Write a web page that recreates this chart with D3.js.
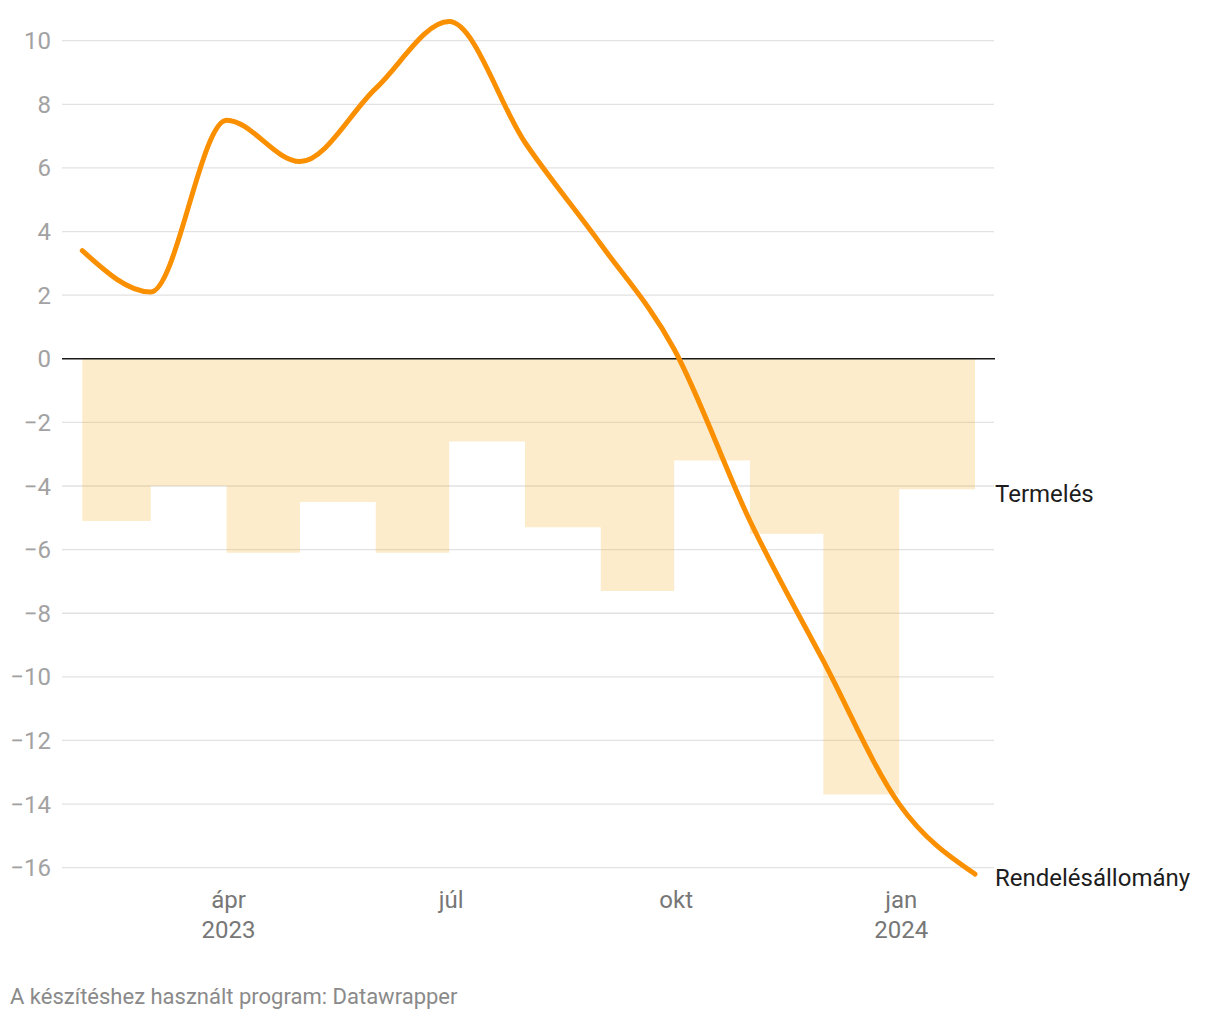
<!DOCTYPE html>
<html>
<head>
<meta charset="utf-8">
<script src="https://cdn.jsdelivr.net/npm/d3@7"></script>
<style>
  html, body { margin: 0; padding: 0; background: #fff; }
  svg { display: block; font-family: Roboto, "Noto Sans", sans-serif; }
</style>
</head>
<body>
<svg id="chart" width="1220" height="1020"></svg>
<script>
// ---- Data ----
const months = ["2023-02-01","2023-03-01","2023-04-01","2023-05-01","2023-06-01","2023-07-01",
                "2023-08-01","2023-09-01","2023-10-01","2023-11-01","2023-12-01","2024-01-01","2024-02-01"];
// Rendelésállomány (line), one value per month start
const ordersValues = [3.4, 2.1, 7.5, 6.2, 8.5, 10.6, 6.8, 3.6, 0.3, -5.1, -9.5, -14.0, -16.2];
// Termelés (step area), one value per month (Feb 2023 – Jan 2024)
const productionValues = [-5.1, -4.0, -6.1, -4.5, -6.1, -2.6, -5.3, -7.3, -3.2, -5.5, -13.7, -4.1];
const yTicks = [10, 8, 6, 4, 2, 0, -2, -4, -6, -8, -10, -12, -14, -16];
const xTickDates = ["2023-04-01","2023-07-01","2023-10-01","2024-01-01"];
const xTickLabels = [["ápr","2023"],["júl"],["okt"],["jan","2024"]];
const seriesNames = ["Termelés", "Rendelésállomány"];
const footerText = "A készítéshez használt program: Datawrapper";

// ---- Layout ----
const svg = d3.select("#chart");
const parse = d3.utcParse("%Y-%m-%d");
const dates = months.map(parse);

const x = d3.scaleUtc()
  .domain([dates[0], dates[dates.length - 1]])
  .range([82.3, 975]);
const y = d3.scaleLinear()
  .domain([-16, 10])
  .range([867.7, 40.7]);

const gridX0 = 62, gridX1 = 994;

// gridlines
const grid = svg.append("g");
grid.selectAll("line").data(yTicks.filter(d => d !== 0)).join("line")
  .attr("x1", gridX0).attr("x2", gridX1)
  .attr("y1", d => y(d)).attr("y2", d => y(d))
  .attr("stroke", "#e2e2e2").attr("stroke-width", 1.3);

// y tick labels
svg.append("g").selectAll("text").data(yTicks).join("text")
  .attr("x", 51).attr("y", d => y(d) + 8.5)
  .attr("text-anchor", "end")
  .attr("fill", "#a2a2a2")
  .attr("font-size", 24)
  .text(d => d < 0 ? "\u2212" + Math.abs(d) : String(d));

// step area for production
const areaData = productionValues.map((v, i) => ({ d0: dates[i], d1: dates[i + 1], v }));
const areaPts = [];
areaData.forEach(p => { areaPts.push({ t: p.d0, v: p.v }); areaPts.push({ t: p.d1, v: p.v }); });
const area = d3.area()
  .x(p => x(p.t))
  .y0(y(0))
  .y1(p => y(p.v));
svg.append("path")
  .datum(areaPts)
  .attr("d", area)
  .attr("fill", "rgb(243,179,51)")
  .attr("fill-opacity", 0.25);

// zero line
svg.append("line")
  .attr("x1", gridX0).attr("x2", 995)
  .attr("y1", y(0)).attr("y2", y(0))
  .attr("stroke", "#1a1a1a").attr("stroke-width", 1.6);

// orders line
const line = d3.line()
  .x((d, i) => x(dates[i]))
  .y(d => y(d))
  .curve(d3.curveMonotoneX);
svg.append("path")
  .datum(ordersValues)
  .attr("d", line)
  .attr("fill", "none")
  .attr("stroke", "#fa8f00")
  .attr("stroke-width", 5)
  .attr("stroke-linecap", "round")
  .attr("stroke-linejoin", "round");

// x axis labels
const xl = svg.append("g");
xTickDates.forEach((ds, i) => {
  const cx = x(parse(ds)) + 2;
  const t = xl.append("text")
    .attr("x", cx)
    .attr("y", 908)
    .attr("text-anchor", "middle")
    .attr("fill", "#777")
    .attr("font-size", 24);
  xTickLabels[i].forEach((s, j) => {
    t.append("tspan").attr("x", cx).attr("dy", j === 0 ? 0 : 30).text(s);
  });
});

// series labels
svg.append("text")
  .attr("x", 995).attr("y", y(productionValues[productionValues.length - 1]) + 12.5)
  .attr("fill", "#1d1d1d").attr("font-size", 24)
  .text(seriesNames[0]);
svg.append("text")
  .attr("x", 995).attr("y", y(ordersValues[ordersValues.length - 1]) + 12)
  .attr("fill", "#1d1d1d").attr("font-size", 24)
  .text(seriesNames[1]);

// footer
svg.append("text")
  .attr("x", 10).attr("y", 1004)
  .attr("fill", "#8a8a8a").attr("font-size", 22)
  .text(footerText);
</script>
</body>
</html>
